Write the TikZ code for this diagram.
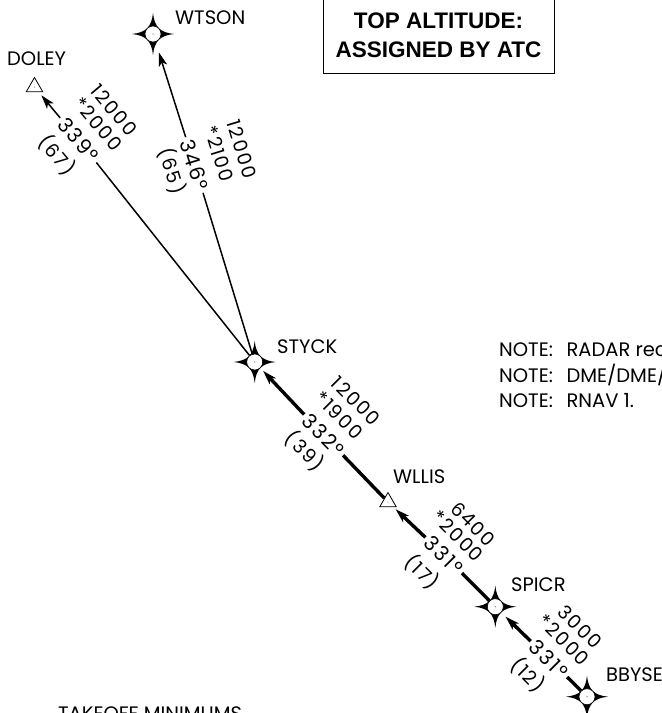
\documentclass[tikz,border=0pt]{standalone}
\usepackage{fontspec}
\setmainfont{Poppins}
\newfontfamily\numfont[LetterSpace=9]{Poppins}
\newfontfamily\boxfont{Liberation Sans}
\usetikzlibrary{arrows.meta,shapes.geometric}
\begin{document}
\begin{tikzpicture}[x=1pt,y=-1pt,
        fix/.style={circle, minimum size=16pt, inner sep=0pt},
        tri/.style={regular polygon, regular polygon sides=3, draw, line width=0.8pt, minimum size=19pt, inner sep=0pt},
        fixname/.style={anchor=base west, inner sep=0pt, font=\fontsize{19.5}{20}\selectfont},
        alt/.style={inner sep=0pt, font=\numfont\fontsize{19}{19}\selectfont},
        hdg/.style={inner sep=3pt, font=\numfont\fontsize{20.5}{20}\selectfont},
        thinline/.style={line width=1.5pt},
        thickline/.style={line width=3.4pt},
        arrowtip/.style={-{Stealth[length=14pt,width=8.5pt,inset=3.5pt]}},
        pics/fixstar/.style={code={
            \fill (0,-21) .. controls (1.5,-7) and (7,-1.5) .. (21,0)
                .. controls (7,1.5) and (1.5,7) .. (0,21)
                .. controls (-1.5,7) and (-7,1.5) .. (-21,0)
                .. controls (-7,-1.5) and (-1.5,-7) .. (0,-21) -- cycle;
            \draw[fill=white, line width=0.6pt] (0,0) circle (8);
            \fill[black!60] (0,0) circle (0.6);
        }}
    ]
    \path[use as bounding box, clip] (0,0) rectangle (662,713);

    % waypoints
    \node[fix] (wtson) at (153,34) {};
    \node[fix] (styck) at (254.7,362) {};
    \node[fix] (spicr) at (495.3,606.7) {};
    \node[fix] (bbyse) at (587,696.7) {};
    \node[tri] (doley) at (34.5,87) {};
    \node[tri] (wllis) at (388,502) {};
    \fill[black!60] (doley) circle (0.5);
    \fill[black!60] (wllis) circle (0.5);

    \node[fixname] (wtsonname) at (175,24) {WTSON};
    \node[fixname] (doleyname) at (7,65) {DOLEY};
    \node[fixname] (styckname) at (277,353) {STYCK};
    \node[fixname] (wllisname) at (393,483) {WLLIS};
    \node[fixname] (spicrname) at (511,591) {SPICR};
    \node[fixname] (bbysename) at (606,681) {BBYSE};

    % DOLEY leg
    \begin{scope}[nodes={rotate=-50}]
        \node[alt] (a1) at (114,110) {12000};
        \node[alt] (a2) at (98,124) {*2000};
        \node[hdg] (h1) at (78.5,140) {339°};
        \node[alt] (d1) at (57,155) {(67)};
    \end{scope}
    \draw[thinline, arrowtip, shorten >=4pt] (h1) -- (doley);
    \draw[thinline] (h1) -- (styck);

    % WTSON leg
    \begin{scope}[nodes={rotate=-73}]
        \node[alt] (a3) at (242,149) {12000};
        \node[alt] (a4) at (219,154) {*2100};
        \node[hdg] (h2) at (194.5,165) {346°};
        \node[alt] (d2) at (172,171) {(65)};
    \end{scope}
    \draw[thinline, arrowtip, shorten >=11pt] (h2) -- (wtson);
    \draw[thinline] (h2) -- (styck);

    % STYCK leg
    \begin{scope}[nodes={rotate=-45}]
        \node[alt] (a5) at (356,401) {12000};
        \node[alt] (a6) at (339,415) {*1900};
        \node[hdg] (h3) at (323.5,435) {332°};
        \node[alt] (d3) at (305,451) {(39)};
    \end{scope}
    \draw[thickline, arrowtip, shorten >=4pt] (h3) -- (styck);
    \draw[thickline] (h3) -- (wllis);

    % WLLIS leg
    \begin{scope}[nodes={rotate=-45}]
        \node[alt] (a7) at (473,524) {6400};
        \node[alt] (a8) at (458,536) {*2000};
        \node[hdg] (h4) at (444,555) {331°};
        \node[alt] (d4) at (422,572) {(17)};
    \end{scope}
    \draw[thickline, arrowtip, shorten >=3pt] (h4) -- (wllis);
    \draw[thickline] (h4) -- (spicr);

    % SPICR leg
    \begin{scope}[nodes={rotate=-45}]
        \node[alt] (a9) at (580,627) {3000};
        \node[alt] (a10) at (564,640) {*2000};
        \node[hdg] (h5) at (549,659) {331°};
        \node[alt] (d5) at (528,675) {(12)};
    \end{scope}
    \draw[thickline, arrowtip, shorten >=6pt] (h5) -- (spicr);
    \draw[thickline] (h5) -- (bbyse);

    \foreach \p in {wtson,styck,spicr,bbyse}
        \pic at (\p) {fixstar};

    \node[draw, line width=0.8pt, minimum width=231pt, minimum height=76pt, inner sep=0pt, align=center,
        font=\boxfont\bfseries\fontsize{22.5}{29}\selectfont] (topalt) at (438.5,35) {TOP ALTITUDE:\\ASSIGNED BY ATC};

    \node[fixname] (note1) at (499,356) {NOTE:\ \ \,RADAR rec};
    \node[fixname] (note2) at (499,382) {NOTE:\ \ \,DME/DME/};
    \node[fixname] (note3) at (499,407) {NOTE:\ \ \,RNAV 1.};
    \node[fixname] (takeoff) at (58,720) {TAKEOFF MINIMUMS};
\end{tikzpicture}
\end{document}
